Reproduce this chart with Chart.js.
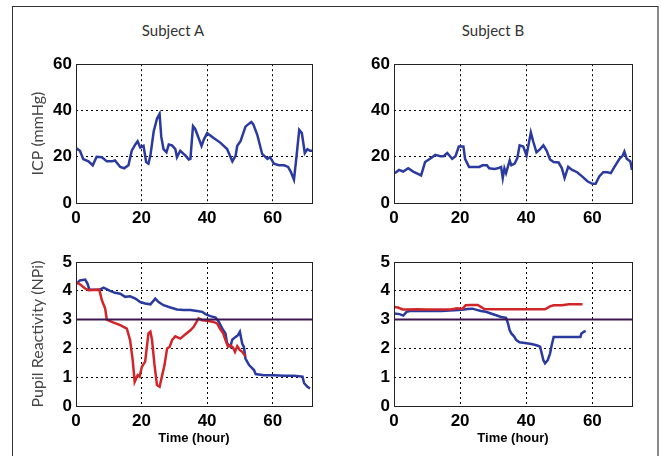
<!DOCTYPE html>
<html>
<head>
<meta charset="utf-8">
<script src="https://cdn.jsdelivr.net/npm/chart.js@4"></script>
<style>
  body { margin: 0; background: #fff; width: 661px; height: 456px; overflow: hidden; position: relative; }
  .frame { position: absolute; left: 12px; top: 6px; width: 644px; height: 470px;
    border-left: 1px solid #333; border-top: 1px solid #333; border-right: 2px solid #8a8a8a; }
  .subj { position: absolute; top: 21px; font: 15px Lato, sans-serif; color: #333; width: 120px; text-align: center; }
  canvas { position: absolute; }
</style>
</head>
<body>
<div class="frame"></div>
<div class="subj" style="left:113px">Subject A</div>
<div class="subj" style="left:433px">Subject B</div>
<canvas id="icpA" width="300" height="180" style="left:20px;top:50px"></canvas>
<canvas id="icpB" width="300" height="180" style="left:338px;top:50px"></canvas>
<canvas id="npiA" width="300" height="215" style="left:20px;top:240px"></canvas>
<canvas id="npiB" width="300" height="215" style="left:338px;top:240px"></canvas>
<script>
// time axis (hours) and tick values
const timeMax = 72;
const timeTicks = [0, 20, 40, 60];
const icpTicks = [0, 20, 40, 60];
const npiTicks = [0, 1, 2, 3, 4, 5];
const npiThreshold = 3;

// Subject A - ICP
const icpAHours = [0, 1.2, 2.2, 3.8, 5.1, 6.3, 7.9, 9.4, 10.9, 11.9, 13.5, 14.7, 16, 17, 18.1, 18.8, 19.6, 20.6, 21.4, 22.1, 22.7, 23.7, 24.7, 25.5, 26, 26.7, 27.6, 28.3, 29.3, 30.3, 30.8, 31.8, 33.4, 34.4, 34.9, 35.7, 36.4, 37.4, 38.3, 39, 40, 42, 44.1, 46.1, 47.7, 48.7, 49.2, 50.2, 51.7, 52.8, 53.5, 54.1, 55.3, 56.8, 58.4, 59.2, 60.4, 61.9, 63.5, 64.7, 65.5, 66.5, 67.3, 68.1, 68.9, 69.8, 70.6, 71.4, 72];
const icpAValues = [23.7, 22.6, 19, 18, 16.3, 20, 19.8, 18, 18, 18.4, 15.6, 15, 16.3, 22.6, 25.3, 26.7, 24, 24.7, 17.7, 17, 20.5, 30.9, 36.4, 38.5, 28.8, 23.3, 21.9, 25.3, 24.9, 23.3, 19.8, 22.6, 20.5, 18.8, 19.1, 33.2, 31.9, 28.1, 24.7, 27.4, 30.2, 28.1, 26, 23.3, 18, 20.5, 24.7, 26.7, 33, 34.3, 35, 34, 29.5, 21.2, 19.1, 19.8, 17, 16.3, 16.3, 15.6, 13.6, 10.1, 20.5, 31.6, 30.2, 21.6, 23.3, 22.6, 22.6];

// Subject B - ICP
const icpBHours = [0, 0.7, 1.5, 2.8, 4.3, 5.8, 7.4, 8.2, 9.4, 10.9, 12.5, 14, 15, 16.1, 17.6, 18.6, 19.6, 21, 21.5, 22.7, 24.2, 25.8, 26.8, 28.1, 28.8, 30.4, 31.4, 32.4, 32.9, 33.4, 33.9, 35, 35.5, 36.5, 37.3, 38, 39.1, 40.1, 40.8, 41.4, 42.1, 43.1, 44.2, 45.2, 46.2, 47.2, 48.3, 49.8, 50.8, 51.6, 52.7, 53.9, 55.4, 56.9, 58.5, 60, 61, 62.1, 63.3, 64.6, 65.6, 66.7, 68.2, 69.2, 69.7, 70.4, 71.5, 72];
const icpBValues = [12.9, 13.3, 14.3, 13.6, 15, 13.6, 12.5, 11.9, 17.7, 19.1, 20.8, 20.2, 20.2, 21.6, 19.1, 20.2, 24.4, 24.4, 19.1, 15.6, 15.6, 15.6, 16.3, 16.3, 15, 14.7, 15, 15.6, 10.8, 15, 12.9, 18.4, 16.3, 17, 19.4, 24.9, 24.4, 20.5, 26, 30.5, 26.7, 21.9, 23.3, 24.9, 22.6, 18.8, 17.7, 17.5, 15, 10.8, 15.6, 14.3, 13.3, 11.5, 9.4, 8.3, 8.3, 11.5, 13.3, 13.3, 12.9, 15.6, 19.1, 20.5, 22.2, 19.1, 18, 14.3];

// Subject A - NPi, blue and red eyes
const npiABlueHours = [0, 1.2, 2.8, 3.5, 4.1, 7.3, 8.4, 10.4, 11.9, 13.5, 15, 16.5, 18.1, 19.6, 21.1, 22.7, 24.2, 25.2, 26.7, 28.8, 30.8, 32.9, 34.9, 36.9, 38.5, 39.5, 41, 42.6, 43.6, 44.6, 45.6, 46.1, 47.1, 47.7, 48.7, 49.4, 50, 50.7, 51.2, 51.7, 52.8, 54.3, 54.8, 57.3, 60.4, 63.5, 66.5, 69.1, 69.6, 70.6, 71.4];
const npiABlueValues = [4.23, 4.36, 4.39, 4.25, 4.04, 4.04, 4.11, 4.0, 3.93, 3.9, 3.79, 3.81, 3.73, 3.61, 3.56, 3.53, 3.73, 3.61, 3.5, 3.42, 3.35, 3.33, 3.33, 3.3, 3.27, 3.19, 3.12, 3.07, 2.92, 2.69, 2.52, 2.17, 2.06, 2.31, 2.4, 2.46, 2.58, 2.17, 2.06, 1.65, 1.42, 1.25, 1.11, 1.07, 1.07, 1.05, 1.05, 1.02, 0.79, 0.67, 0.61];
const npiARedHours = [0, 1.2, 2.8, 3.8, 7.1, 7.9, 8.9, 9.4, 10.9, 13.5, 15.5, 16.5, 17.3, 17.9, 18.8, 19.4, 20.1, 21.1, 22.1, 22.7, 23.2, 23.9, 24.7, 25.5, 26.2, 27, 27.8, 28.6, 29.3, 30.3, 31.8, 33.4, 34.9, 35.9, 37.4, 38.5, 40, 42, 43.1, 43.9, 44.9, 45.6, 46.4, 47.1, 47.9, 48.5, 49.2, 50, 50.7, 51.7];
const npiARedValues = [4.3, 4.23, 4.08, 4.02, 4.04, 3.67, 3.38, 3.0, 2.92, 2.81, 2.69, 2.29, 1.59, 0.84, 1.07, 1.02, 1.36, 1.54, 2.52, 2.58, 2.29, 1.48, 0.73, 0.67, 1.02, 1.42, 2.0, 2.06, 2.29, 2.42, 2.34, 2.49, 2.63, 2.75, 3.04, 2.98, 2.96, 2.92, 2.86, 2.69, 2.52, 2.29, 2.06, 2.11, 2.03, 1.88, 2.08, 1.94, 1.88, 1.73];

// Subject B - NPi
const npiBBlueHours = [0, 1.7, 2.8, 3.8, 4.8, 10.9, 14.3, 19.6, 21.2, 22.2, 23.7, 25.3, 26.3, 27.8, 29.3, 30.9, 32.4, 33.9, 34.5, 35, 35.5, 36.3, 37, 38, 39.6, 41.6, 43.1, 44.2, 44.7, 45.2, 45.7, 46.5, 47.2, 47.7, 48.3, 49.8, 53.9, 56.4, 56.7, 57.5, 58];
const npiBBlueValues = [3.21, 3.19, 3.14, 3.27, 3.3, 3.3, 3.3, 3.33, 3.35, 3.37, 3.38, 3.33, 3.3, 3.27, 3.21, 3.15, 3.09, 3.06, 2.86, 2.63, 2.52, 2.42, 2.29, 2.21, 2.19, 2.15, 2.11, 2.06, 1.82, 1.59, 1.48, 1.59, 1.82, 2.11, 2.4, 2.4, 2.4, 2.4, 2.52, 2.58, 2.61];
const npiBRedHours = [0, 1.2, 2.6, 3.8, 6.9, 9.9, 14, 17.1, 19.1, 20.7, 21.7, 23.2, 25.3, 26.3, 27.3, 30.4, 36.5, 41.6, 45.7, 47.2, 48.3, 50.8, 52.9, 57];
const npiBRedValues = [3.44, 3.42, 3.35, 3.35, 3.36, 3.35, 3.35, 3.35, 3.39, 3.37, 3.5, 3.51, 3.51, 3.44, 3.37, 3.36, 3.36, 3.36, 3.36, 3.46, 3.5, 3.5, 3.53, 3.53];

const blue = "#2b3a9e";
const red = "#d0262a";
const purple = "#3d1650";
const tickFont = { family: "'Liberation Sans', Arial, sans-serif", size: 17, weight: "bold" };

function pts(xs, ys) {
  return xs.map((x, i) => ({ x: x, y: ys[i] }));
}

function series(xs, ys, color) {
  return { data: pts(xs, ys), borderColor: color, borderWidth: 2.5, pointRadius: 0, tension: 0, fill: false };
}

// box round the plot area (top and right sides too)
const boxPlugin = {
  id: "box",
  afterDatasetsDraw(chart) {
    const a = chart.chartArea;
    const ctx = chart.ctx;
    ctx.save();
    ctx.strokeStyle = "#222";
    ctx.lineWidth = 1;
    ctx.strokeRect(Math.round(a.left) + 0.5, Math.round(a.top) + 0.5, Math.round(a.right - a.left), Math.round(a.bottom - a.top));
    ctx.restore();
  },
};

function makeChart(id, datasets, yTicks, yMax, yTitle, xTitle, padRight, padTop, xHeight) {
  return new Chart(document.getElementById(id).getContext("2d"), {
    type: "line",
    data: { datasets: datasets },
    plugins: [boxPlugin],
    options: {
      responsive: false,
      animation: false,
      layout: { padding: { left: 0, top: padTop, right: padRight, bottom: 0 } },
      plugins: { legend: { display: false }, tooltip: { enabled: false } },
      scales: {
        x: {
          type: "linear",
          min: 0,
          max: timeMax,
          afterBuildTicks: (s) => { s.ticks = timeTicks.map((v) => ({ value: v })); },
          afterFit: (s) => { s.height = xHeight; },
          grid: { color: "#000", lineWidth: 1, drawTicks: false },
          border: { display: false, dash: [2, 3] },
          ticks: { font: tickFont, color: "#000", padding: 5, maxRotation: 0 },
          title: {
            display: !!xTitle,
            text: xTitle,
            color: "#000",
            font: { family: "'Liberation Sans', Arial, sans-serif", size: 13, weight: "bold" },
            padding: { top: 0, bottom: 9 },
          },
        },
        y: {
          min: 0,
          max: yMax,
          afterBuildTicks: (s) => { s.ticks = yTicks.map((v) => ({ value: v })); },
          afterFit: (s) => { s.width = 56; },
          grid: { color: "#000", lineWidth: 1, drawTicks: false },
          border: { display: false, dash: [2, 3] },
          ticks: { font: tickFont, color: "#000", padding: 4 },
          title: {
            display: !!yTitle,
            text: yTitle,
            color: "#444",
            font: { family: "Lato, sans-serif", size: 16 },
            padding: { top: 8, bottom: 0 },
          },
        },
      },
    },
  });
}

const thresholdLine = () => ({
  data: [{ x: 0, y: npiThreshold }, { x: timeMax, y: npiThreshold }],
  borderColor: purple, borderWidth: 2, pointRadius: 0, fill: false,
});

makeChart("icpA", [series(icpAHours, icpAValues, blue)], icpTicks, 60, "ICP (mmHg)", "", 8, 8, 27);
makeChart("icpB", [series(icpBHours, icpBValues, blue)], icpTicks, 60, "", "", 6, 8, 27);
makeChart("npiA", [thresholdLine(), series(npiARedHours, npiARedValues, red), series(npiABlueHours, npiABlueValues, blue)],
  npiTicks, 5, "Pupil Reactivity (NPi)", "Time (hour)", 8, 22, 49);
makeChart("npiB", [thresholdLine(), series(npiBRedHours, npiBRedValues, red), series(npiBBlueHours, npiBBlueValues, blue)],
  npiTicks, 5, "", "Time (hour)", 6, 22, 49);
</script>
</body>
</html>
